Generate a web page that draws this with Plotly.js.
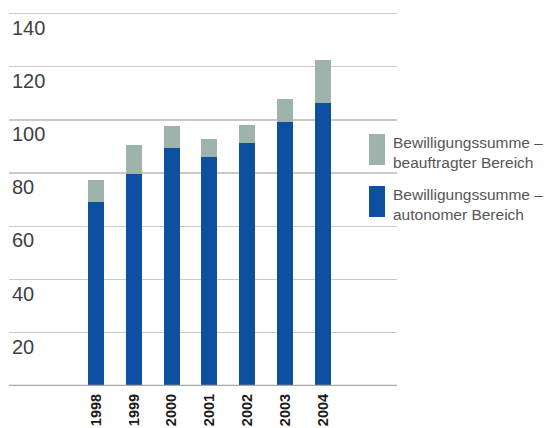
<!DOCTYPE html>
<html>
<head>
<meta charset="utf-8">
<script src="https://cdn.plot.ly/plotly-3.0.1.min.js"></script>
<style>html,body{margin:0;padding:0;background:#fff;}#chart{width:549px;height:428px;}</style>
</head>
<body>
<div id="chart"></div>
<script>
// Data
const years = ["1998", "1999", "2000", "2001", "2002", "2003", "2004"];
const autonom = [69.0, 79.5, 89.6, 85.9, 91.5, 99.4, 106.5];
const beauftragt = [8.6, 10.9, 8.3, 7.1, 6.7, 8.6, 16.1];
const yTicks = [20, 40, 60, 80, 100, 120, 140];
const legendLabels = ["Bewilligungssumme –<br>beauftragter Bereich", "Bewilligungssumme –<br>autonomer Bereich"];

const blue = "#0d4fa1";
const grey = "#9fb3ad";

// layout geometry helpers (pixels -> paper)
const W = 549, H = 428;
const mL = 9, mR = W - 397, mT = 12, mB = H - 386;
const pw = W - mL - mR, ph = H - mT - mB;
const px = x => (x - mL) / pw;
const py = y => (H - mB - y) / ph;
const yTop = 140 * ph / (386 - 13.5);

const traces = [
  { type: "bar", x: years, y: autonom, marker: { color: blue }, width: 0.42, showlegend: false, hoverinfo: "x+y" },
  { type: "bar", x: years, y: beauftragt, marker: { color: grey }, width: 0.42, showlegend: false, hoverinfo: "x+y" }
];

const layout = {
  width: W, height: H,
  margin: { l: mL, r: mR, t: mT, b: mB, pad: 0 },
  paper_bgcolor: "#fff", plot_bgcolor: "#fff",
  barmode: "stack",
  font: { family: "Liberation Sans, Arial, sans-serif" },
  xaxis: {
    type: "category",
    range: [-2.3, 7.96],
    showgrid: false, zeroline: false, showline: false,
    ticks: "", tickangle: -90,
    ticklabelstandoff: 4,
    tickfont: { size: 14.5, color: "#1a1a1a", family: "Liberation Sans, Arial, sans-serif", weight: "bold" }
  },
  yaxis: {
    range: [0, yTop],
    tickvals: yTicks,
    ticktext: yTicks.map(String),
    ticklabelposition: "inside",
    ticklabelshift: 14,
    ticklabelstandoff: 0,
    showgrid: true, gridcolor: "#c9c9c9", gridwidth: 1.3,
    zeroline: false, showline: false, ticks: "",
    tickfont: { size: 20, color: "#3f3f3f" }
  },
  shapes: [
    { type: "line", xref: "paper", yref: "y", x0: 0, x1: 1, y0: 0, y1: 0, line: { color: "#a8a8a8", width: 2.5 } },
    { type: "rect", xref: "paper", yref: "paper", x0: px(369), x1: px(385), y0: py(165), y1: py(134), fillcolor: grey, line: { width: 0 } },
    { type: "rect", xref: "paper", yref: "paper", x0: px(369), x1: px(385), y0: py(217), y1: py(186), fillcolor: blue, line: { width: 0 } }
  ],
  annotations: [
    { xref: "paper", yref: "paper", x: px(391), y: py(152.5), xanchor: "left", yanchor: "middle", align: "left", showarrow: false,
      text: legendLabels[0], font: { size: 15.5, color: "#555" } },
    { xref: "paper", yref: "paper", x: px(391), y: py(204.5), xanchor: "left", yanchor: "middle", align: "left", showarrow: false,
      text: legendLabels[1], font: { size: 15.5, color: "#555" } }
  ]
};

Plotly.newPlot("chart", traces, layout, { displayModeBar: false, staticPlot: true });
</script>
</body>
</html>
